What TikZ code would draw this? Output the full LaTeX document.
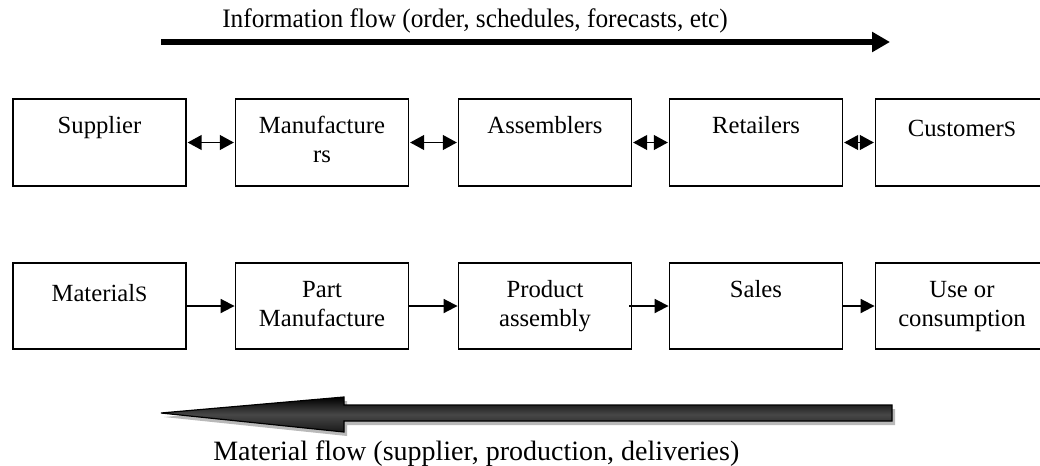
\documentclass[tikz,border=0pt]{standalone}
\usepackage{fontspec}
\setmainfont{Liberation Serif}
\usetikzlibrary{arrows.meta,calc}
\begin{document}
\begin{tikzpicture}[x=0.75pt,y=-0.75pt,
  box/.style={draw,line width=1.4pt,minimum width=129.75pt,minimum height=65pt,inner sep=0pt},
  lbl/.style={anchor=north,align=center,inner sep=0pt,font=\fontsize{18.5}{21.75}\selectfont},
  dbl/.style={line width=1.4pt,{Triangle[length=10.5pt,width=11pt]}-{Triangle[length=10.5pt,width=11pt]},shorten <=0.5pt,shorten >=0.5pt},
  sgl/.style={line width=1.4pt,-{Triangle[length=10.5pt,width=10.5pt]}},
  flowtxt/.style={inner sep=0pt,anchor=base west}]
\useasboundingbox (0,0) rectangle (1040,465);
\clip (0,0) rectangle (1040,465);
% top row
\node[box] (b1) at (99.5,142.5) {};
\node[box] (b2) at (322,142.5) {};
\node[box] (b3) at (545,142.5) {};
\node[box] (b4) at (756,142.5) {};
\node[box] (b5) at (962,142.5) {};
\node[lbl] (t1) at (99.5,112.7) {\strut Supplier};
\node[lbl] (t2) at (322,112.7) {\strut Manufacture\\rs};
\node[lbl] (t3) at (545,112.7) {\strut Assemblers};
\node[lbl] (t4) at (756,112.7) {\strut Retailers};
\node[lbl] (t5) at (962,116) {\strut Customer{\fontsize{16.5}{20}\selectfont S}};
\draw[dbl] (b1.east) -- (b2.west);
\draw[dbl] (b2.east) -- (b3.west);
\draw[dbl] (b3.east) -- (b4.west);
\draw[dbl] (b4.east) -- (b5.west);
% bottom row
\node[box] (c1) at (99.5,306) {};
\node[box] (c2) at (322,306) {};
\node[box] (c3) at (545,306) {};
\node[box] (c4) at (756,306) {};
\node[box] (c5) at (962,306) {};
\node[lbl] (u1) at (99.5,281) {\strut Material{\fontsize{16.5}{20}\selectfont S}};
\node[lbl] (u2) at (322,276.7) {\strut Part\\Manufacture};
\node[lbl] (u3) at (545,276.7) {\strut Product\\assembly};
\node[lbl] (u4) at (756,276.7) {\strut Sales};
\node[lbl] (u5) at (962,276.7) {\strut Use or\\consumption};
\coordinate (s3) at ($(c3.east)+(-3,0)$);
\draw[sgl] (c1.east) -- (c2.west);
\draw[sgl] (c2.east) -- (c3.west);
\draw[sgl] (s3) -- (c4.west);
\draw[sgl] (c4.east) -- (c5.west);
% information flow
\coordinate (ia) at (161,42);
\coordinate (ib) at (890,42);
\draw[line width=4.5pt,-{Triangle[length=13.5pt,width=14.5pt]}] (ia) -- (ib);
\node[flowtxt] (it) at (222,27) {\scalebox{0.95}[1]{\fontsize{20}{24}\selectfont Information flow (order, schedules, forecasts, etc)}};
% material flow
\fill[gray!55] (164,417) -- (347,401) -- (347,409) -- (895,409) -- (895,425) -- (347,425) -- (347,436) -- cycle;
\shade[top color=black, bottom color=black!90, middle color=black!72, draw=black, line width=0.9pt]
  (161,413) -- (344,397) -- (344,405) -- (892,405) -- (892,421) -- (344,421) -- (344,432) -- cycle;
\node[flowtxt] (mt) at (213,460) {\fontsize{21}{25}\selectfont Material flow (supplier, production, deliveries)};
\end{tikzpicture}
\end{document}
